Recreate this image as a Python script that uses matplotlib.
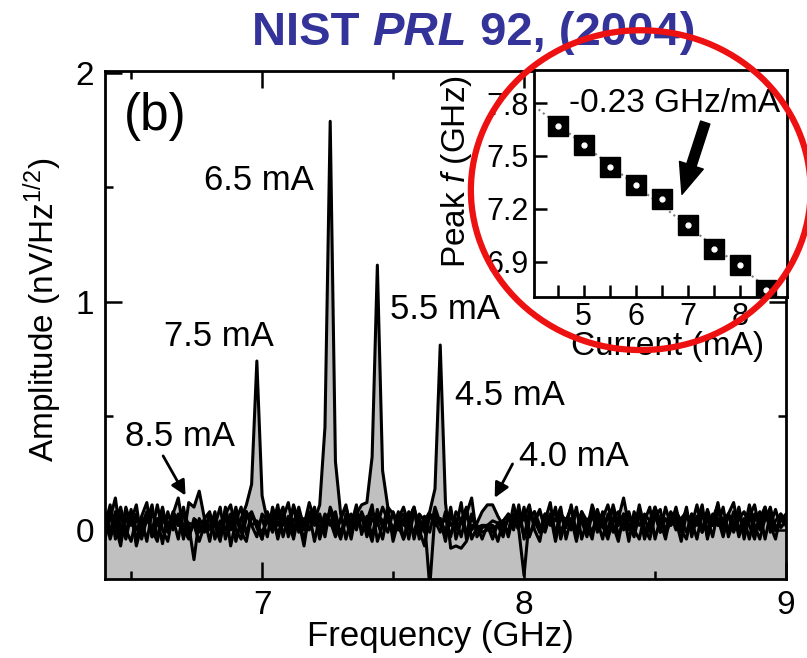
import numpy as np
import matplotlib
matplotlib.use("Agg")
import matplotlib.pyplot as plt
from matplotlib.patches import Ellipse
from matplotlib.ticker import MultipleLocator

plt.rcParams['font.family'] = ['Liberation Sans', 'DejaVu Sans']
plt.rcParams['mathtext.fontset'] = 'custom'
plt.rcParams['mathtext.rm'] = 'Liberation Sans'
plt.rcParams['mathtext.it'] = 'Liberation Sans:italic'

# frequency grid (GHz), 6.40 ... 9.00 in 0.02 steps
freq = [round(6.40 + 0.02 * i, 2) for i in range(131)]

# spectra (nV/Hz^1/2)
amp_85 = [0.02, 0.11, -0.04, 0.07, -0.02, 0.09, -0.05, 0.06, 0.12, -0.03,
          0.05, -0.06, 0.08, 0.00, 0.07, -0.04, 0.12, 0.10, 0.17, 0.05,
          -0.05, 0.06, -0.01, 0.09, -0.07, 0.04, 0.10, -0.02, 0.07, 0.01,
          -0.04, 0.08, 0.02, 0.11, -0.03, 0.06, -0.02, 0.10, 0.01, 0.07,
          -0.05, 0.06, 0.00, 0.09, 0.02, -0.04, 0.07, 0.02, 0.11, -0.02,
          0.06, -0.03, 0.09, 0.01, 0.10, -0.05, 0.04, 0.07, 0.00, 0.09,
          -0.04, 0.06, -0.01, 0.10, 0.03, -0.03, 0.07, 0.01, 0.12, -0.04,
          0.06, 0.00, 0.02, 0.02, -0.04, 0.03, 0.04, -0.02, 0.06, 0.01,
          0.10, -0.03, 0.04, 0.09, 0.00, 0.07, -0.05, 0.06, 0.01, 0.11,
          -0.02, 0.07, 0.02, -0.04, 0.09, 0.01, 0.06, 0.10, -0.03, 0.04,
          0.07, 0.00, 0.11, 0.01, -0.04, 0.06, 0.09, -0.02, 0.04, 0.07,
          0.01, 0.10, -0.03, 0.06, 0.00, 0.09, 0.02, 0.12, -0.02, 0.07,
          0.01, 0.09, -0.04, 0.06, 0.11, 0.00, 0.07, 0.02, 0.09, 0.01, 0.04]
amp_75 = [-0.04, 0.05, 0.14, -0.03, 0.04, 0.08, -0.07, 0.02, 0.07, -0.01,
          0.11, 0.00, -0.05, 0.07, 0.02, 0.10, -0.03, 0.04, -0.01, 0.05,
          0.08, -0.04, 0.04, 0.00, 0.07, -0.05, 0.05, 0.11, 0.20, 0.74,
          0.15, 0.04, 0.07, -0.04, 0.05, 0.12, 0.00, 0.04, -0.07, 0.08,
          0.02, 0.07, -0.03, 0.10, 0.04, -0.01, 0.05, -0.04, 0.08, 0.00,
          0.04, 0.11, -0.05, 0.02, 0.07, -0.01, 0.08, -0.04, 0.04, 0.10,
          0.00, -0.07, 0.07, 0.02, 0.05, -0.01, 0.10, -0.04, 0.04, 0.07,
          0.14, -0.03, 0.01, 0.02, 0.02, -0.05, 0.04, 0.07, 0.00, 0.11,
          -0.04, 0.05, 0.08, -0.01, 0.04, 0.12, -0.03, 0.07, 0.02, 0.05,
          -0.05, 0.08, 0.00, 0.11, 0.04, -0.04, 0.07, -0.01, 0.05, 0.14,
          0.02, -0.03, 0.07, 0.04, 0.10, -0.04, 0.05, 0.00, 0.08, 0.04,
          -0.05, 0.07, 0.02, 0.11, -0.01, 0.05, -0.03, 0.08, 0.04, 0.07,
          0.12, 0.00, 0.05, -0.04, 0.07, 0.02, 0.10, -0.01, 0.04, 0.07, 0.02]
amp_65 = [0.07, -0.04, 0.04, 0.10, 0.00, -0.05, 0.05, 0.02, 0.08, -0.03,
          0.04, 0.07, -0.01, 0.05, -0.04, 0.08, 0.02, -0.13, 0.05, 0.00,
          0.07, 0.02, -0.05, 0.10, 0.00, 0.05, -0.01, 0.08, 0.02, 0.04,
          -0.04, 0.07, 0.00, 0.05, 0.10, -0.03, 0.04, 0.08, 0.02, 0.12,
          0.04, 0.11, 0.45, 1.79, 0.30, 0.07, -0.04, 0.05, 0.00, 0.08,
          0.02, -0.05, 0.07, 0.04, -0.01, 0.08, 0.02, -0.04, 0.05, 0.10,
          0.00, 0.04, -0.25, 0.07, 0.02, 0.05, -0.03, 0.08, 0.04, -0.01,
          0.07, 0.02, -0.04, 0.02, 0.04, 0.03, -0.01, 0.05, 0.02, 0.07,
          -0.03, 0.08, 0.04, -0.01, 0.07, 0.02, 0.10, -0.04, 0.05, 0.00,
          0.08, 0.04, -0.03, 0.07, -0.01, 0.05, 0.11, 0.02, -0.05, 0.07,
          0.00, 0.05, 0.08, -0.04, 0.04, 0.07, -0.01, 0.10, 0.02, 0.05,
          -0.01, 0.07, 0.04, -0.04, 0.08, 0.00, 0.05, 0.02, 0.10, -0.03,
          0.04, 0.07, 0.00, 0.11, 0.02, -0.04, 0.05, 0.08, 0.00, 0.04, 0.07]
amp_55 = [-0.01, 0.07, 0.02, -0.07, 0.08, 0.04, 0.11, -0.04, 0.05, 0.00,
          -0.05, 0.08, 0.02, 0.07, 0.14, 0.00, -0.04, 0.05, 0.03, 0.04,
          0.00, 0.08, -0.04, 0.05, 0.02, 0.10, -0.01, -0.05, 0.07, 0.02,
          0.05, -0.03, 0.10, 0.02, 0.07, -0.01, 0.11, 0.04, -0.04, 0.05,
          0.08, 0.00, 0.07, 0.04, -0.03, 0.05, 0.10, 0.02, 0.07, 0.11,
          0.12, 0.32, 1.16, 0.26, 0.10, 0.07, 0.00, 0.05, -0.04, 0.08,
          0.04, -0.01, 0.07, 0.02, 0.05, -0.05, 0.08, 0.00, 0.04, 0.10,
          -0.04, 0.01, 0.02, 0.01, -0.01, 0.02, 0.04, -0.03, 0.07, 0.02,
          0.05, 0.11, 0.00, -0.05, 0.07, 0.04, 0.08, -0.01, 0.05, 0.02,
          0.10, -0.04, 0.04, 0.07, 0.00, 0.08, -0.03, 0.05, 0.02, 0.07,
          -0.05, 0.08, 0.02, 0.05, -0.01, 0.10, 0.04, -0.04, 0.07, 0.00,
          0.05, 0.08, -0.01, 0.04, 0.11, -0.04, 0.07, 0.02, 0.05, 0.00,
          0.08, -0.03, 0.04, 0.07, -0.01, 0.05, 0.10, 0.02, -0.04, 0.07, 0.04]
amp_45 = [0.04, -0.01, 0.08, 0.02, -0.04, 0.07, 0.00, 0.05, -0.05, 0.08,
          0.02, 0.10, -0.01, 0.05, 0.02, 0.08, -0.03, 0.04, 0.02, -0.01,
          0.05, 0.02, 0.10, -0.04, 0.04, 0.07, 0.00, 0.08, 0.02, -0.03,
          0.07, 0.04, -0.01, 0.08, 0.02, 0.05, -0.04, 0.07, 0.00, 0.04,
          0.10, -0.01, 0.05, 0.02, 0.08, -0.03, 0.04, 0.07, 0.02, 0.05,
          -0.01, 0.08, 0.04, -0.04, 0.07, 0.00, 0.05, 0.10, 0.02, -0.01,
          0.07, 0.04, 0.08, 0.18, 0.81, 0.12, -0.08, -0.07, -0.08, -0.05,
          0.02, 0.02, -0.01, 0.00, 0.01, 0.02, -0.03, 0.07, 0.04, 0.00,
          -0.20, 0.05, 0.08, 0.02, -0.01, 0.07, 0.04, 0.10, -0.04, 0.05,
          0.00, 0.08, 0.04, -0.01, 0.07, 0.02, -0.04, 0.05, 0.08, 0.00,
          0.05, 0.02, 0.08, -0.03, 0.04, 0.07, -0.01, 0.05, 0.02, 0.10,
          0.00, -0.04, 0.07, 0.04, -0.01, 0.08, 0.02, 0.05, -0.03, 0.07,
          0.02, 0.10, -0.01, 0.05, 0.04, 0.08, -0.04, 0.07, 0.00, 0.05, 0.02]
amp_40 = [0.08, 0.00, 0.05, -0.03, 0.10, 0.02, 0.07, -0.01, 0.04, 0.11,
          -0.04, 0.05, 0.00, 0.08, 0.04, -0.01, 0.03, 0.02, -0.05, 0.02,
          0.02, 0.05, -0.01, 0.07, 0.11, 0.00, -0.04, 0.05, 0.08, 0.02,
          -0.01, 0.04, 0.08, -0.03, 0.07, 0.02, 0.10, -0.01, 0.05, 0.00,
          0.07, -0.04, 0.04, 0.08, 0.00, 0.05, 0.11, -0.01, 0.04, 0.07,
          -0.03, 0.05, 0.02, 0.10, 0.04, -0.01, 0.07, 0.02, 0.08, -0.04,
          0.05, 0.00, 0.07, 0.04, -0.01, 0.08, 0.02, 0.05, -0.03, 0.07,
          0.00, 0.03, 0.08, 0.11, 0.11, 0.06, 0.02, -0.01, 0.11, 0.02,
          0.07, -0.03, 0.04, 0.08, 0.02, 0.05, -0.01, 0.07, 0.04, 0.10,
          -0.04, 0.05, 0.00, 0.08, 0.04, 0.07, -0.01, 0.11, 0.02, 0.05,
          0.08, 0.00, -0.04, 0.07, 0.04, 0.10, 0.02, -0.01, 0.05, 0.08,
          0.04, -0.01, 0.07, 0.02, 0.08, -0.03, 0.05, 0.11, 0.02, 0.07,
          -0.01, 0.05, 0.08, 0.02, -0.04, 0.07, 0.04, 0.10, 0.00, 0.05, 0.03]
spectra = [amp_85, amp_75, amp_65, amp_55, amp_45, amp_40]

# peak labels: text, text position, arrow start / end (None = no arrow)
peak_labels = ["8.5 mA", "7.5 mA", "6.5 mA", "5.5 mA", "4.5 mA", "4.0 mA"]
label_xy = [(6.687, 0.41), (6.836, 0.846), (6.989, 1.53), (7.698, 0.965), (7.947, 0.59), (8.19, 0.32)]
arrow_from = [(6.617, 0.335), None, None, None, None, (7.961, 0.30)]
arrow_to = [(6.713, 0.14), None, None, None, None, (7.883, 0.13)]

# inset: peak frequency vs bias current
current = [4.5, 5.0, 5.5, 6.0, 6.5, 7.0, 7.5, 8.0, 8.5]
peak_f = [7.67, 7.56, 7.44, 7.335, 7.255, 7.107, 6.974, 6.88, 6.737]

fig = plt.figure(figsize=(8.07, 6.58), dpi=100)
ax = fig.add_axes([0.130, 0.120, 0.844, 0.772])

ybot = -0.215
for a in spectra:
    ax.fill_between(freq, ybot, a, color='#c0c0c0', lw=0, zorder=1)
for a in spectra:
    ax.plot(freq, a, color='black', lw=2.2, zorder=2)

ax.set_xlim(6.40, 9.0)
ax.set_ylim(ybot, 2.01)
ax.xaxis.set_major_locator(MultipleLocator(1))
ax.xaxis.set_minor_locator(MultipleLocator(0.5))
ax.yaxis.set_major_locator(MultipleLocator(1))
ax.yaxis.set_minor_locator(MultipleLocator(0.5))
ax.tick_params(which='both', direction='in', top=True, right=True, width=1.8, labelsize=24)
ax.tick_params(which='major', length=12, pad=8)
ax.tick_params(which='minor', length=6)
for s in ax.spines.values():
    s.set_linewidth(2)

ax.set_xlabel("Frequency (GHz)", fontsize=25)
ax.xaxis.set_label_coords(0.493, -0.080)
ax.set_ylabel("Amplitude (nV/Hz$^{1/2}$)", fontsize=24)
ax.yaxis.set_label_coords(-0.060, 0.53)

ax.text(0.074, 0.911, "(b)", transform=ax.transAxes, fontsize=37, ha='center', va='center')

for lab, xy, a0, a1 in zip(peak_labels, label_xy, arrow_from, arrow_to):
    ax.text(xy[0], xy[1], lab, fontsize=25, ha='center', va='center')
    if a0 is not None:
        ax.annotate("", xy=a1, xytext=a0,
                    arrowprops=dict(arrowstyle='-|>', color='black', lw=2, mutation_scale=22))

# inset
ins = fig.add_axes([0.662, 0.549, 0.313, 0.345])
fit = np.polyfit(current, peak_f, 1)
xf = np.array([4.05, 8.9])
ins.plot(xf, np.polyval(fit, xf), ls=':', color='gray', lw=1.5, zorder=1)
ins.plot(current, peak_f, 's', color='black', ms=14, zorder=2)
ins.plot(current, peak_f, 'o', color='white', ms=3.5, zorder=3)
ins.set_xlim(4.05, 8.9)
ins.set_ylim(6.70, 7.99)
ins.xaxis.set_major_locator(MultipleLocator(1))
ins.xaxis.set_minor_locator(MultipleLocator(0.5))
ins.set_yticks([6.9, 7.2, 7.5, 7.8])
ins.tick_params(which='both', direction='in', length=9, width=1.8, labelsize=22, pad=4)
for s in ins.spines.values():
    s.set_linewidth(2)
ins.set_xlabel("Current (mA)", fontsize=24)
ins.xaxis.set_label_coords(0.526, -0.15)
ins.set_ylabel("Peak $\\mathit{f}$ (GHz)", fontsize=24)
ins.yaxis.set_label_coords(-0.24, 0.55)
ins.text(4.71, 7.80, "-0.23 GHz/mA", fontsize=24, ha='left', va='center')
ins.annotate("", xy=(6.87, 7.267), xytext=(7.35, 7.705),
             arrowprops=dict(arrowstyle='simple,head_width=0.9,head_length=1.1,tail_width=0.35',
                             color='black', mutation_scale=20))

# title, with PRL in italics
blue = '#333399'
t1 = fig.text(0.312, 0.950, "NIST ", fontsize=34, weight='bold', color=blue, va='center')
t2 = ax.annotate("PRL", xy=(1, 0), xycoords=t1, va='bottom', fontsize=34, weight='bold',
                 style='italic', color=blue, annotation_clip=False)
t3 = ax.annotate(" 92, (2004)", xy=(1, 0), xycoords=t2, va='bottom', fontsize=34, weight='bold',
                 color=blue, annotation_clip=False)

# red circle
circ = Ellipse((0.794, 0.711), 0.421, 0.486, transform=fig.transFigure, fill=False,
               edgecolor='#ee1111', lw=4.5, zorder=10)
fig.add_artist(circ)

fig.savefig("out.png", dpi=100)
